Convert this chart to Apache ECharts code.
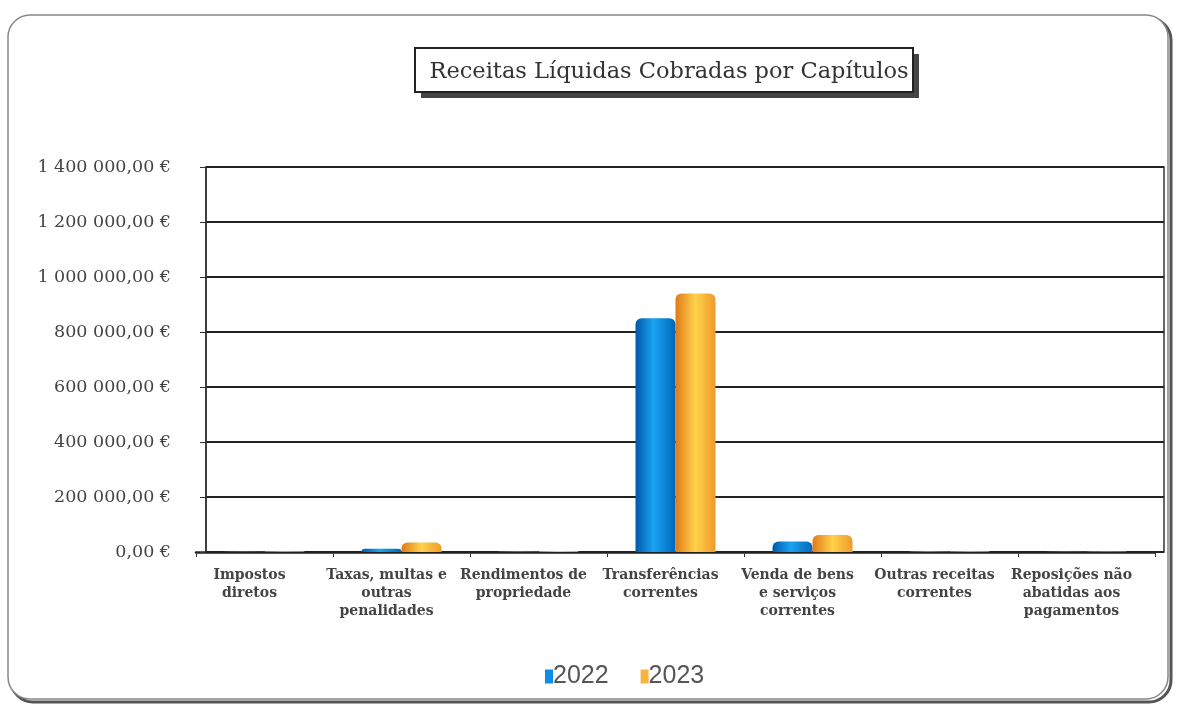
<!DOCTYPE html>
<html>
<head>
<meta charset="utf-8">
<script src="https://cdn.jsdelivr.net/npm/echarts@6/dist/echarts.min.js"></script>
<style>html,body{margin:0;padding:0;background:#fff}#c{width:1179px;height:706px}</style>
</head>
<body>
<div id="c"></div>
<script>
const categories = ["Impostos\ndiretos", "Taxas, multas e\noutras\npenalidades", "Rendimentos de\npropriedade", "Transferências\ncorrentes", "Venda de bens\ne serviços\ncorrentes", "Outras receitas\ncorrentes", "Reposições não\nabatidas aos\npagamentos"];
const values2022 = [2000, 12000, 3000, 850000, 38000, 4000, 2000];
const values2023 = [2500, 35000, 3500, 940000, 62000, 3000, 1500];
const seriesNames = ["2022", "2023"];
const yTicks = [0, 200000, 400000, 600000, 800000, 1000000, 1200000, 1400000];

function fmt(v) {
  const s = String(Math.round(v)).replace(/\B(?=(\d{3})+(?!\d))/g, " ");
  return s + ",00 €";
}

const chart = echarts.init(document.getElementById('c'));
const blueGrad = new echarts.graphic.LinearGradient(0, 0, 1, 0, [
  {offset: 0, color: '#0058a8'}, {offset: 0.45, color: '#1aa3f2'}, {offset: 1, color: '#0068bb'}]);
const orangeGrad = new echarts.graphic.LinearGradient(0, 0, 1, 0, [
  {offset: 0, color: '#e07a18'}, {offset: 0.5, color: '#ffd24a'}, {offset: 1, color: '#f09a2a'}]);

const yMax = yTicks[yTicks.length - 1];
const yStep = yTicks[1] - yTicks[0];

chart.setOption({
  animation: false,
  backgroundColor: '#fff',
  graphic: [
    {type: 'rect', shape: {x: 11, y: 18, width: 1160, height: 684, r: 22}, style: {fill: 'none', stroke: '#555', lineWidth: 3}, z: -10},
    {type: 'rect', shape: {x: 8, y: 15, width: 1160, height: 684, r: 22}, style: {fill: '#fff', stroke: '#888', lineWidth: 1.5}, z: -9},
    {type: 'rect', shape: {x: 421, y: 54, width: 498, height: 44}, style: {fill: '#444'}, z: 1},
    {type: 'rect', shape: {x: 415, y: 48, width: 498, height: 44}, style: {fill: '#fff', stroke: '#222', lineWidth: 2}, z: 2}
  ],
  title: {
    text: 'Receitas Líquidas Cobradas por Capítulos',
    left: 664, top: 56, textAlign: 'center',
    textStyle: {fontFamily: 'DejaVu Serif', fontSize: 22.5, fontWeight: 'normal', color: '#333'},
    z: 5
  },
  legend: {
    bottom: 12, left: 540,
    itemWidth: 8, itemHeight: 14, itemGap: 32,
    icon: 'rect',
    textStyle: {fontFamily: 'Liberation Sans', fontSize: 25, color: '#555', padding: [0, 0, 0, -5]},
    data: [{name: '2022', itemStyle: {color: '#0a8ee6'}}, {name: '2023', itemStyle: {color: '#f7b444'}}]
  },
  grid: [
    {left: 196, right: 24, top: 167, bottom: 154},
    {left: 206, right: 15, top: 167, bottom: 154, show: true, borderColor: '#333', borderWidth: 1.5}
  ],
  xAxis: [
    {
      type: 'category', gridIndex: 0,
      data: categories,
      axisLine: {lineStyle: {color: '#222', width: 2.5}},
      axisTick: {show: true, alignWithLabel: false, lineStyle: {color: '#333'}},
      axisLabel: {
        interval: 0, margin: 14, lineHeight: 18, padding: [0, 30, 0, 0],
        fontFamily: 'DejaVu Serif', fontSize: 14, fontWeight: 'bold', color: '#444'
      }
    },
    {type: 'value', gridIndex: 1, show: false}
  ],
  yAxis: [
    {type: 'value', gridIndex: 0, min: 0, max: yMax, interval: yStep, show: false, splitLine: {show: false}},
    {
      type: 'value', gridIndex: 1, min: 0, max: yMax, interval: yStep,
      axisLine: {show: true, lineStyle: {color: '#333', width: 1.5}},
      axisTick: {show: true, length: 6, lineStyle: {color: '#333'}},
      splitLine: {lineStyle: {color: '#222', width: 2}},
      axisLabel: {
        margin: 35, formatter: fmt,
        fontFamily: 'DejaVu Serif', fontSize: 17.5, color: '#444'
      }
    }
  ],
  series: [
    {name: seriesNames[0], type: 'bar', xAxisIndex: 0, yAxisIndex: 0, data: values2022, barWidth: 40, barGap: '0%', itemStyle: {color: blueGrad, borderRadius: [6, 6, 0, 0]}, z: 5},
    {name: seriesNames[1], type: 'bar', xAxisIndex: 0, yAxisIndex: 0, data: values2023, barWidth: 40, itemStyle: {color: orangeGrad, borderRadius: [6, 6, 0, 0]}, z: 5}
  ]
});
</script>
</body>
</html>
